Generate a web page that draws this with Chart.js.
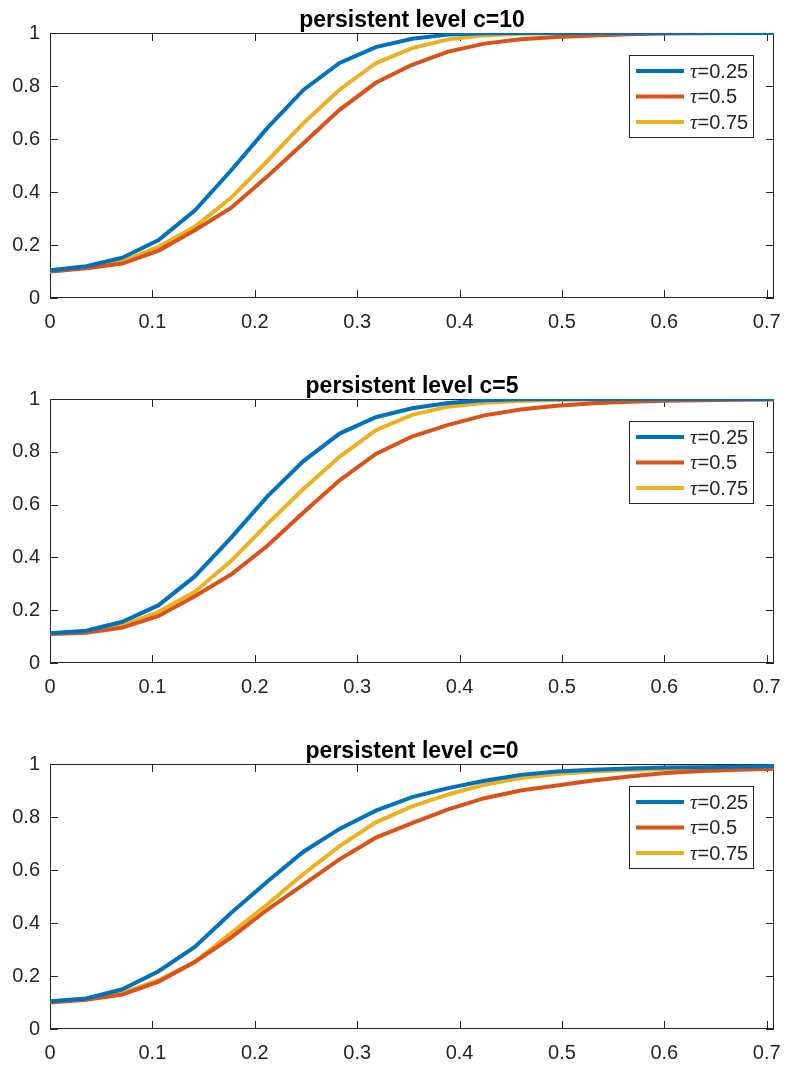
<!DOCTYPE html>
<html>
<head>
<meta charset="utf-8">
<script src="https://cdn.jsdelivr.net/npm/chart.js@4.4.0/dist/chart.umd.min.js"></script>
<style>
  html, body { margin: 0; padding: 0; background: #fff; overflow: hidden; }
  #wrap { position: relative; width: 785px; height: 1068px; }
  canvas { position: absolute; left: 0; }
</style>
</head>
<body>
<div id="wrap">
  <canvas id="c10" width="785" height="338" style="top:0px"></canvas>
  <canvas id="c5" width="785" height="337" style="top:366px"></canvas>
  <canvas id="c0" width="785" height="337" style="top:731px"></canvas>
</div>
<script>
// --- DATA ---
const xValues = [0, 0.0354, 0.0707, 0.1061, 0.1414, 0.1768, 0.2121, 0.2475, 0.2828, 0.3182, 0.3536,
                 0.3889, 0.4243, 0.4596, 0.4950, 0.5303, 0.5657, 0.6010, 0.6364, 0.6718, 0.7071];
const xMax = 0.7071;
const xTicks = [0, 0.1, 0.2, 0.3, 0.4, 0.5, 0.6, 0.7];
const yTicks = [0, 0.2, 0.4, 0.6, 0.8, 1];
const tauLabels = ['0.25', '0.5', '0.75'];
const titles = ['persistent level c=10', 'persistent level c=5', 'persistent level c=0'];

// c = 10
const c10_tau025 = [0.105, 0.120, 0.152, 0.219, 0.330, 0.481, 0.641, 0.785, 0.887, 0.947, 0.978, 0.994, 0.999, 1, 1, 1, 1, 1, 1, 1, 1];
const c10_tau05  = [0.100, 0.112, 0.130, 0.179, 0.256, 0.340, 0.458, 0.584, 0.710, 0.812, 0.880, 0.930, 0.960, 0.976, 0.985, 0.991, 0.995, 0.998, 0.999, 1, 1];
const c10_tau075 = [0.100, 0.115, 0.138, 0.193, 0.269, 0.378, 0.516, 0.660, 0.786, 0.886, 0.943, 0.976, 0.991, 0.997, 0.999, 1, 1, 1, 1, 1, 1];

// c = 5
const c5_tau025 = [0.113, 0.122, 0.156, 0.219, 0.328, 0.474, 0.630, 0.765, 0.869, 0.931, 0.965, 0.985, 0.995, 0.999, 1, 1, 1, 1, 1, 1, 1];
const c5_tau05  = [0.110, 0.115, 0.134, 0.178, 0.253, 0.335, 0.443, 0.570, 0.692, 0.792, 0.858, 0.902, 0.938, 0.960, 0.974, 0.984, 0.990, 0.993, 0.995, 0.997, 0.998];
const c5_tau075 = [0.110, 0.117, 0.142, 0.194, 0.270, 0.386, 0.526, 0.659, 0.781, 0.882, 0.940, 0.971, 0.986, 0.992, 0.996, 0.998, 1, 1, 1, 1, 1];

// c = 0
const c0_tau025 = [0.105, 0.115, 0.150, 0.218, 0.310, 0.438, 0.556, 0.669, 0.755, 0.824, 0.875, 0.909, 0.937, 0.959, 0.972, 0.978, 0.983, 0.987, 0.988, 0.990, 0.992];
const c0_tau05  = [0.100, 0.110, 0.130, 0.179, 0.253, 0.345, 0.450, 0.545, 0.640, 0.722, 0.777, 0.829, 0.871, 0.900, 0.919, 0.938, 0.953, 0.966, 0.974, 0.978, 0.982];
const c0_tau075 = [0.103, 0.112, 0.135, 0.184, 0.253, 0.362, 0.470, 0.585, 0.690, 0.780, 0.840, 0.885, 0.922, 0.947, 0.962, 0.972, 0.977, 0.981, 0.983, 0.986, 0.988];

// --- STYLE ---
const colors = ['#0072BD', '#D95319', '#EDB120'];
const axisColor = '#262626';
const sans = '"Liberation Sans", Arial, Helvetica, sans-serif';

// MATLAB-like box, inward ticks, title and legend
const matlabAxes = {
    id: 'matlabAxes',
    beforeDatasetsDraw(chart) {
        const { ctx, chartArea: a, scales: { x, y } } = chart;
        ctx.save();
        ctx.strokeStyle = axisColor;
        ctx.lineWidth = 1;
        ctx.beginPath();
        xTicks.forEach(v => {
            const px = Math.round(x.getPixelForValue(v)) + 0.5;
            ctx.moveTo(px, a.bottom); ctx.lineTo(px, a.bottom - 8);
            ctx.moveTo(px, a.top); ctx.lineTo(px, a.top + 8);
        });
        yTicks.forEach(v => {
            const py = Math.round(y.getPixelForValue(v)) + 0.5;
            ctx.moveTo(a.left, py); ctx.lineTo(a.left + 8, py);
            ctx.moveTo(a.right, py); ctx.lineTo(a.right - 8, py);
        });
        ctx.stroke();
        ctx.strokeRect(a.left + 0.5, a.top + 0.5, a.right - a.left - 1, a.bottom - a.top - 1);

        ctx.fillStyle = '#000';
        ctx.font = `bold 23px ${sans}`;
        ctx.textAlign = 'center';
        ctx.textBaseline = 'alphabetic';
        ctx.fillText(chart.options.plugins.matlabAxes.title, (a.left + a.right) / 2, a.top - 6.5);
        ctx.restore();
    },
    afterDraw(chart) {
        const { ctx, chartArea: a } = chart;
        const w = 124, h = 82;
        const bx = a.right - 21 - w, by = a.top + 22;
        ctx.save();
        ctx.fillStyle = '#fff';
        ctx.fillRect(bx, by, w, h);
        ctx.strokeStyle = axisColor;
        ctx.lineWidth = 1;
        ctx.strokeRect(bx + 0.5, by + 0.5, w, h);
        chart.data.datasets.forEach((ds, i) => {
            const ry = by + 16 + i * 25.5;
            ctx.strokeStyle = ds.borderColor;
            ctx.lineWidth = ds.borderWidth;
            ctx.beginPath();
            ctx.moveTo(bx + 7, ry); ctx.lineTo(bx + 55, ry);
            ctx.stroke();
            ctx.fillStyle = axisColor;
            ctx.textBaseline = 'middle';
            ctx.textAlign = 'left';
            ctx.font = 'italic 21px "Liberation Serif", "DejaVu Serif", serif';
            ctx.fillText('τ', bx + 61, ry + 1);
            const tw = ctx.measureText('τ').width;
            ctx.font = `20px ${sans}`;
            ctx.fillText('=' + tauLabels[i], bx + 61 + tw, ry + 1);
        });
        ctx.restore();
    }
};

function makeChart(id, title, series, areaBottom) {
    const canvas = document.getElementById(id);
    const xAxisHeight = canvas.height - areaBottom;
    return new Chart(canvas, {
        type: 'line',
        data: {
            datasets: series.map((vals, i) => ({
                label: 'τ=' + tauLabels[i],
                data: vals.map((v, k) => ({ x: xValues[k], y: v })),
                borderColor: colors[i],
                backgroundColor: colors[i],
                borderWidth: 4,
                pointRadius: 0,
                tension: 0,
                fill: false
            }))
        },
        options: {
            responsive: false,
            animation: false,
            layout: { padding: { top: 33, right: 11, left: 0, bottom: 0 } },
            plugins: {
                legend: { display: false },
                tooltip: { enabled: false },
                matlabAxes: { title }
            },
            scales: {
                x: {
                    type: 'linear',
                    min: 0,
                    max: xMax,
                    grid: { display: false, drawTicks: false },
                    border: { display: false },
                    afterBuildTicks: s => { s.ticks = xTicks.map(v => ({ value: v })); },
                    afterFit: s => { s.height = xAxisHeight; s.paddingLeft = 0; s.paddingRight = 0; },
                    ticks: {
                        includeBounds: false,
                        padding: 12,
                        color: axisColor,
                        font: { family: sans, size: 20 },
                        callback: v => String(+v.toFixed(1))
                    }
                },
                y: {
                    min: 0,
                    max: 1,
                    grid: { display: false, drawTicks: false },
                    border: { display: false },
                    afterBuildTicks: s => { s.ticks = yTicks.map(v => ({ value: v })); },
                    afterFit: s => { s.width = 50; s.paddingTop = 0; s.paddingBottom = 0; },
                    ticks: {
                        padding: 10,
                        color: axisColor,
                        font: { family: sans, size: 20 },
                        callback: v => String(+v.toFixed(1))
                    }
                }
            }
        },
        plugins: [matlabAxes]
    });
}

makeChart('c10', titles[0], [c10_tau025, c10_tau05, c10_tau075], 298);
makeChart('c5', titles[1], [c5_tau025, c5_tau05, c5_tau075], 297);
makeChart('c0', titles[2], [c0_tau025, c0_tau05, c0_tau075], 298);
</script>
</body>
</html>
